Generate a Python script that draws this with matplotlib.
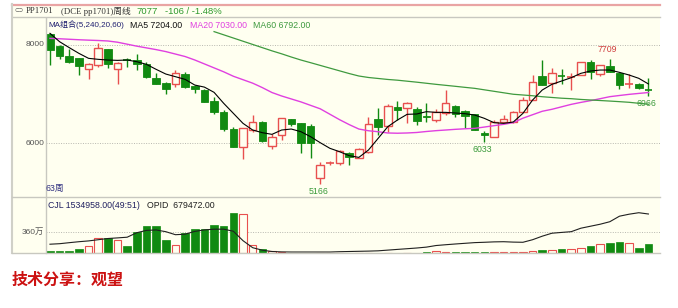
import matplotlib
matplotlib.use("Agg")
import matplotlib.pyplot as plt
from matplotlib.patches import Rectangle
from matplotlib.lines import Line2D

# weekly candles PP1701, 63 weeks
opens = [8220, 7970, 7777, 7730, 7500, 7588, 7912, 7507, 7695, 7689,
         7601, 7318, 7216, 7203, 7399, 7162, 7081, 6865, 6628, 6290,
         5919, 6270, 6426, 5953, 6169, 6493, 6405, 6358, 5304, 5600,
         5608, 5811, 5710, 5831, 6493, 6358, 6743, 6709, 6689, 6561,
         6466, 6608, 6764, 6655, 6588, 6203, 6135, 6439, 6426, 6642,
         6878, 7365, 7216, 7378, 7331, 7385, 7642, 7399, 7568, 7419,
         7196, 7203, 7100]
highs = [8240, 7993, 7912, 7735, 7635, 8027, 7915, 7655, 7723, 7804,
         7642, 7432, 7250, 7486, 7439, 7180, 7100, 6946, 6676, 6338,
         6310, 6574, 6450, 6182, 6520, 6500, 6410, 6385, 5628, 5650,
         5865, 5830, 5900, 6540, 6709, 6790, 6858, 6830, 6743, 6811,
         6696, 7081, 6780, 6670, 6600, 6240, 6473, 6574, 6650, 6946,
         7385, 7689, 7520, 7500, 7419, 7650, 7690, 7595, 7709, 7430,
         7399, 7215, 7331]
lows = [7590, 7710, 7622, 7385, 7297, 7540, 7520, 7196, 7554, 7486,
        7330, 7205, 7000, 7149, 7128, 7014, 6830, 6595, 6257, 5919,
        5676, 6223, 6020, 5878, 6067, 6358, 5797, 5709, 5166, 5560,
        5561, 5561, 5700, 5797, 6169, 6236, 6473, 6405, 6372, 6426,
        6440, 6574, 6540, 6318, 6270, 6033, 6130, 6430, 6420, 6635,
        6870, 7180, 7014, 7196, 7081, 7380, 7297, 7370, 7440, 7095,
        7128, 7100, 6966]
closes = [7900, 7777, 7655, 7575, 7608, 7926, 7615, 7622, 7685, 7601,
          7338, 7209, 7095, 7419, 7149, 7095, 6845, 6642, 6290, 5932,
          6304, 6439, 6047, 6122, 6507, 6392, 6000, 6000, 5561, 5615,
          5851, 5730, 5880, 6385, 6338, 6757, 6676, 6824, 6453, 6534,
          6628, 6811, 6588, 6561, 6270, 6169, 6426, 6493, 6642, 6878,
          7250, 7182, 7432, 7365, 7351, 7642, 7439, 7588, 7453, 7182,
          7216, 7115, 7077]

ma5 = [8230, 8060, 7940, 7824, 7723, 7703, 7689, 7682, 7689, 7655,
       7601, 7500, 7405, 7351, 7297, 7182, 7140, 7034, 6811, 6608,
       6405, 6270, 6216, 6182, 6270, 6290, 6236, 6135, 6013, 5899,
       5831, 5750, 5715, 5865, 6101, 6338, 6473, 6588, 6595, 6642,
       6628, 6628, 6615, 6601, 6574, 6507, 6419, 6405, 6432, 6608,
       6878, 7081, 7196, 7263, 7331, 7419, 7466, 7486, 7486, 7439,
       7385, 7318, 7204]
ma20 = [8128, 8120, 8110, 8100, 8092, 8085, 8075, 8050, 8010, 7970,
        7935, 7900, 7860, 7810, 7760, 7690, 7610, 7530, 7450, 7360,
        7290, 7220, 7130, 7030, 6960, 6900, 6840, 6770, 6700, 6590,
        6480, 6380, 6290, 6255, 6235, 6210, 6205, 6210, 6220, 6240,
        6257, 6270, 6284, 6295, 6304, 6330, 6358, 6385, 6420, 6510,
        6580, 6650, 6690, 6740, 6790, 6830, 6865, 6905, 6946, 6970,
        6993, 7012, 7030]
ma60_start = 17
ma60 = [8265, 8200, 8135, 8070, 8005, 7940, 7875, 7815, 7750, 7689,
        7635, 7580, 7525, 7470, 7415, 7365, 7335, 7315, 7295, 7280,
        7260, 7240, 7218, 7196, 7176, 7156, 7135, 7115, 7085, 7055,
        7025, 6995, 6980, 6965, 6945, 6930, 6915, 6905, 6890, 6879,
        6868, 6857, 6845, 6832, 6812, 6792]

# volume in 万 and open interest in lots
volume = [30, 30, 30, 59, 118, 253, 253, 224, 118, 365,
          465, 465, 220, 135, 341, 412, 412, 488, 471, 706,
          682, 135, 59, 35, 18, 2, 2, 2, 2, 2,
          2, 2, 2, 2, 2, 2, 2, 2, 2, 12,
          29, 18, 5, 12, 12, 12, 18, 5, 12, 12,
          35, 47, 47, 59, 65, 88, 118, 153, 176, 194,
          176, 88, 147]
open_int = [149000, 158000, 176000, 193000, 207000, 228000, 249000, 260000, 272000, 351000,
            392000, 399000, 369000, 316000, 325000, 374000, 400000, 413000, 413000, 377000,
            211000, 88000, 44000, 21000, 14000, 12000, 12000, 12000, 12000, 12000,
            17500, 21000, 24500, 28000, 33000, 45500, 58000, 70000, 82500, 98000,
            126000, 140000, 153000, 165000, 177000, 183000, 190000, 193000, 186000, 183000,
            228000, 290000, 342000, 356000, 369000, 430000, 465000, 500000, 544000, 641000,
            676000, 702000, 679472]

peaks = [(58, highs[58], "7709", "high"), (28, lows[28], "5166", "low"),
         (45, lows[45], "6033", "low"), (62, lows[62], "6966", "low")]

W, H = 678, 308
bg = "#fffff0"
up_c = "#e8504f"
dn_c = "#118a11"
mag = "#e040e0"
grn = "#3f9a3f"
grid_c = "#b8b8b0"
lat = ["Liberation Sans", "Noto Sans CJK SC"]


def fx(px):
    return px / W


def fy(py):
    return 1 - py / H


fig = plt.figure(figsize=(W / 100, H / 100), dpi=100)
fig.patch.set_facecolor("white")
fig.add_artist(Rectangle((fx(12), fy(253)), fx(660) - fx(12), fy(4) - fy(253),
                         transform=fig.transFigure, facecolor=bg, edgecolor="none", zorder=0))

ax = fig.add_axes([fx(46), fy(197), fx(660) - fx(46), fy(18) - fy(197)])
axv = fig.add_axes([fx(46), fy(252.7), fx(660) - fx(46), fy(197) - fy(252.7)])
for a in (ax, axv):
    a.set_facecolor(bg)
    a.set_xlim(-0.41, 63.2)
    for s in a.spines.values():
        s.set_visible(False)
    a.set_xticks([])
    a.set_yticks([])

ax.set_ylim(4912, 8541)
axv.set_ylim(0, 983)

for g in (8000, 6000):
    ax.axhline(g, color=grid_c, lw=0.7, ls=(0, (1, 1.5)), zorder=1)
axv.axhline(360, color=grid_c, lw=0.7, ls=(0, (1, 1.5)), zorder=1)

bw = 0.78
n = len(closes)
for i in range(n):
    o, h, l, c = opens[i], highs[i], lows[i], closes[i]
    up = c > o
    col = up_c if up else dn_c
    lo, hi = min(o, c), max(o, c)
    if hi - lo < 25:
        ax.vlines(i, l, h, color=col, lw=1, zorder=3)
        ax.hlines((o + c) / 2, i - bw / 2, i + bw / 2, color=col, lw=1.2, zorder=3)
        continue
    if up:
        ax.vlines(i, hi, h, color=col, lw=1, zorder=3)
        ax.vlines(i, l, lo, color=col, lw=1, zorder=3)
        ax.add_patch(Rectangle((i - bw / 2, lo), bw, hi - lo, facecolor=bg,
                               edgecolor=col, lw=1, zorder=4))
    else:
        ax.vlines(i, l, h, color=col, lw=1, zorder=3)
        ax.add_patch(Rectangle((i - bw / 2, lo), bw, hi - lo, facecolor=col,
                               edgecolor=col, lw=0.6, zorder=4))

xs = list(range(n))
ax.plot(xs, ma20, color=mag, lw=1, zorder=5)
ax.plot(list(range(ma60_start, ma60_start + len(ma60))), ma60, color=grn, lw=0.9, zorder=5)
ax.plot(xs, ma5, color="black", lw=0.8, zorder=6)

for i, v, txt, kind in peaks:
    if kind == "high":
        ax.annotate(txt, (i, v), xytext=(-2, 5), textcoords="offset pixels",
                    ha="center", va="bottom", color="#d04040", fontsize=6.3, family=lat)
    else:
        ax.annotate(txt, (i, v), xytext=(-2, -3), textcoords="offset pixels",
                    ha="center", va="top", color="#3a9a3a", fontsize=6.3, family=lat)

for i in range(n):
    up = closes[i] > opens[i]
    if up:
        axv.add_patch(Rectangle((i - bw / 2, 0), bw, volume[i], facecolor=bg,
                                edgecolor=up_c, lw=0.8, zorder=3))
    else:
        axv.add_patch(Rectangle((i - bw / 2, 0), bw, volume[i], facecolor=dn_c,
                                edgecolor=dn_c, lw=0.5, zorder=3))
axo = axv.twinx()
axo.set_ylim(0, 978000)
axo.set_xlim(-0.41, 63.2)
axo.axis("off")
axo.plot(xs, open_int, color="#202020", lw=0.8, zorder=5)

# frame lines
frame = [((12, 4.5), (660, 4.5), "#e9a4a4", 1.6),
         ((12, 17), (660, 17), "#c8c8c0", 1),
         ((12, 4), (12, 253), "#d0d0c8", 1.5),
         ((46, 18), (46, 253), "#c8c8c0", 1),
         ((12, 197), (660, 197), "#c8c8c0", 1),
         ((12, 253), (660, 253), "#c8c8c0", 1)]
for (x0, y0), (x1, y1), col, lw in frame:
    fig.add_artist(Line2D([fx(x0), fx(x1)], [fy(y0), fy(y1)], color=col, lw=lw,
                          transform=fig.transFigure, zorder=10))


def ptext(x, y, s, color, size=6.3, ha="left", family=lat, weight="normal"):
    fig.text(fx(x), fy(y), s, color=color, fontsize=size, ha=ha, va="center",
             family=family, weight=weight, zorder=11)


serif = ["Liberation Serif", "Noto Sans CJK SC"]
ptext(14.5, 11, "⊂⊃", "#555555", 4, family=["DejaVu Sans"])
ptext(25.5, 11, "PP1701", "#333333", 6.3, family=serif)
ptext(61, 11, "(DCE pp1701)周线", "#333333", 6.3, family=serif)
ptext(136, 11, "7077", "#2e9a2e", 6.8)
ptext(165, 11, "-106 / -1.48%", "#2e9a2e", 6.8)

ptext(48, 25, "MA组合(5,240,20,60)", "#202070", 5.8)
ptext(130, 25, "MA5 7204.00", "#111111")
ptext(190, 25, "MA20 7030.00", mag)
ptext(253, 25, "MA60 6792.00", grn)

ptext(44, 44.7, "8000", "#555555", 6, ha="right")
ptext(44, 143.3, "6000", "#555555", 6, ha="right")
ptext(46, 188, "63周", "#303080", 6.3)

ptext(48, 205, "CJL 1534958.00(49:51)", "#202060")
ptext(147, 205, "OPID  679472.00", "#202020")
ptext(44, 232.3, "360万", "#555555", 6, ha="right")

ptext(12, 280, "技术分享：观望", "#cc1111", 11.5,
      family=["Noto Sans CJK SC", "DejaVu Sans"], weight="bold")

fig.savefig("out.png", dpi=100, facecolor="white")
